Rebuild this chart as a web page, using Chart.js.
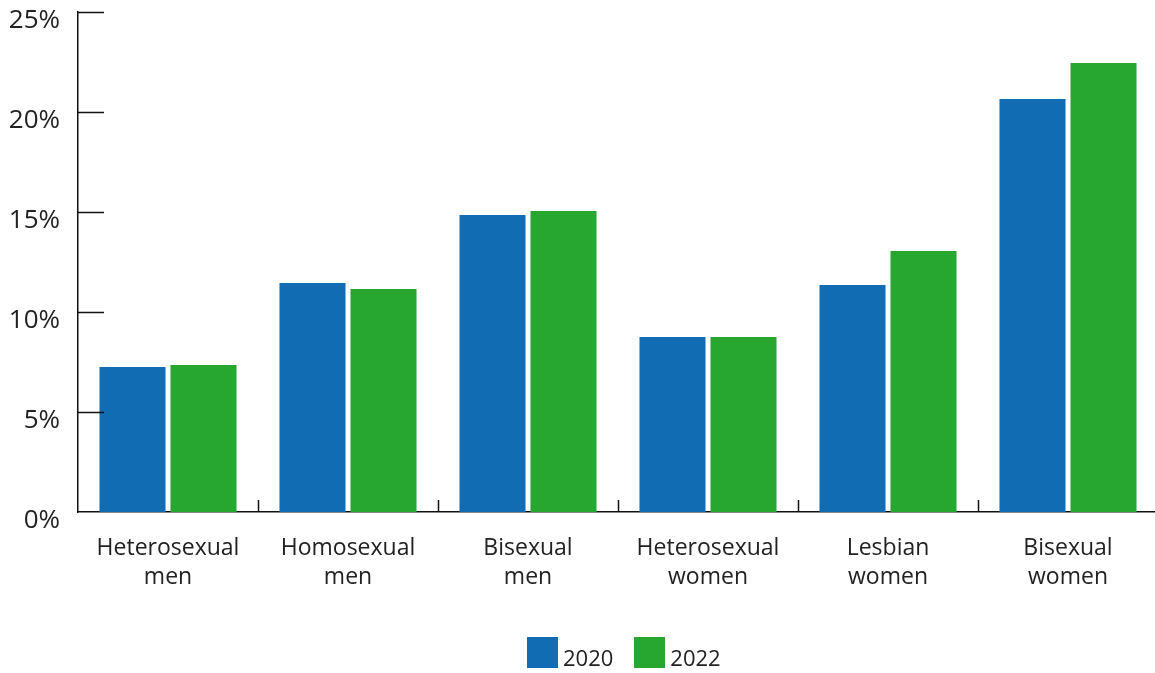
<!DOCTYPE html>
<html>
<head>
<meta charset="utf-8">
<script src="https://cdn.jsdelivr.net/npm/chart.js@4/dist/chart.umd.min.js"></script>
<style>
  html, body { margin: 0; padding: 0; background: #fff; overflow: hidden; }
  #wrap { position: relative; width: 1158px; height: 673px; }
  #legend {
    position: absolute; left: 527px; top: 637px;
    display: flex; align-items: flex-end;
    font-family: "Open Sans", Lato, sans-serif; font-size: 22px; line-height: 1; color: #222;
  }
  #legend .item { display: flex; align-items: flex-end; margin-right: 21px; }
  #legend .swatch { width: 31px; height: 31px; margin-right: 5px; }
</style>
</head>
<body>
<div id="wrap">
  <canvas id="chart"></canvas>
  <div id="legend"></div>
</div>
<script>
// Share of respondents, by group and survey year
const groups = [
  ['Heterosexual', 'men'],
  ['Homosexual', 'men'],
  ['Bisexual', 'men'],
  ['Heterosexual', 'women'],
  ['Lesbian', 'women'],
  ['Bisexual', 'women']
];
const years = ['2020', '2022'];
const values2020 = [7.25, 11.45, 14.85, 8.75, 11.35, 20.65];
const values2022 = [7.35, 11.15, 15.05, 8.75, 13.05, 22.45];
const yTicks = [0, 5, 10, 15, 20, 25];

const BLUE = '#126cb3';
const GREEN = '#27a72f';
const FONT = '"Open Sans", Lato, sans-serif';

// Tick marks pointing into the plot area, on both axes
const innerTicks = {
  id: 'innerTicks',
  afterDatasetsDraw(chart) {
    const { ctx, chartArea, scales } = chart;
    const x = scales.x, y = scales.y;
    ctx.save();
    ctx.strokeStyle = '#111';
    ctx.lineWidth = 1.5;
    ctx.beginPath();
    yTicks.forEach(v => {
      if (v === 0) return;
      const py = Math.round(y.getPixelForValue(v)) + 0.5;
      ctx.moveTo(chartArea.left, py);
      ctx.lineTo(chartArea.left + 26, py);
    });
    const half = (x.getPixelForValue(1) - x.getPixelForValue(0)) / 2;
    for (let i = 1; i < groups.length; i++) {
      const px = Math.round(x.getPixelForValue(i) - half) + 0.5;
      ctx.moveTo(px, chartArea.bottom);
      ctx.lineTo(px, chartArea.bottom - 12);
    }
    ctx.stroke();
    ctx.restore();
  }
};

const chart = new Chart(document.getElementById('chart'), {
  type: 'bar',
  data: {
    labels: groups,
    datasets: [
      { label: years[0], data: values2020, backgroundColor: BLUE },
      { label: years[1], data: values2022, backgroundColor: GREEN }
    ]
  },
  options: {
    responsive: true,
    maintainAspectRatio: false,
    animation: false,
    layout: { padding: { top: 12, right: 0, bottom: 0, left: 0 } },
    datasets: {
      bar: { categoryPercentage: 0.789, barPercentage: 0.93 }
    },
    scales: {
      x: {
        grid: { display: false },
        border: { display: true, color: '#111', width: 1.5 },
        afterFit: scale => { scale.height = 161; },
        ticks: {
          color: '#222',
          font: { family: FONT, size: 23, lineHeight: 1.26 },
          padding: 14,
          maxRotation: 0
        }
      },
      y: {
        min: 0,
        max: 25,
        grid: { display: false },
        border: { display: true, color: '#111', width: 1.5 },
        afterBuildTicks: axis => { axis.ticks = yTicks.map(v => ({ value: v })); },
        afterFit: scale => { scale.width = 78; scale.paddingTop = 0; scale.paddingBottom = 0; },
        ticks: {
          color: '#222',
          font: { family: FONT, size: 26 },
          padding: 10,
          labelOffset: 9,
          callback: v => v + '%'
        }
      }
    },
    plugins: {
      tooltip: { enabled: false },
      legend: { display: false }
    }
  },
  plugins: [innerTicks]
});

// Legend built from the datasets
const legend = document.getElementById('legend');
chart.data.datasets.forEach(ds => {
  const item = document.createElement('div');
  item.className = 'item';
  const sw = document.createElement('span');
  sw.className = 'swatch';
  sw.style.background = ds.backgroundColor;
  const txt = document.createElement('span');
  txt.innerText = ds.label;
  item.appendChild(sw);
  item.appendChild(txt);
  legend.appendChild(item);
});
</script>
</body>
</html>
